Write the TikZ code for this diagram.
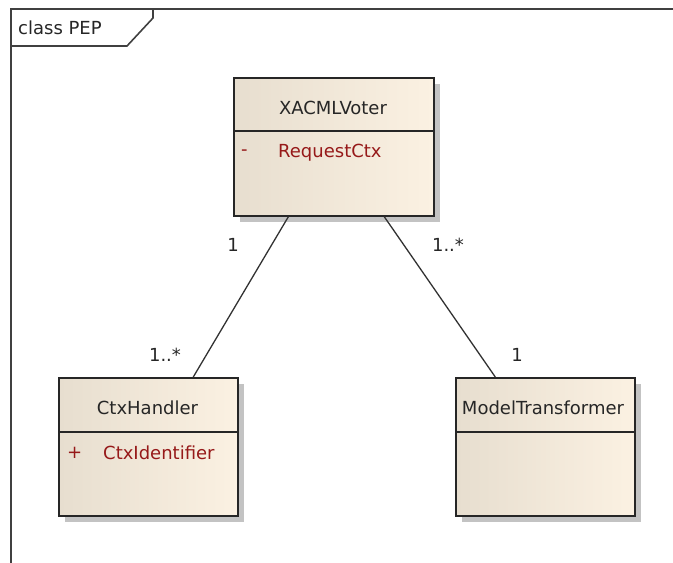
\documentclass[tikz,border=0pt]{standalone}
\usepackage{fontspec}
\setmainfont{DejaVu Sans}
\usetikzlibrary{calc,shadows}
\definecolor{boxleft}{RGB}{231,222,207}
\definecolor{boxright}{RGB}{251,241,226}
\definecolor{attrred}{RGB}{150,25,25}
\definecolor{linegray}{RGB}{50,50,50}
\definecolor{shadowgray}{RGB}{195,195,195}
\begin{document}
\begin{tikzpicture}[x=1pt,y=-1pt,
  every node/.style={font=\fontsize{18}{20}\selectfont, inner sep=0pt},
  classbox/.style={draw=black!85, line width=1.6pt, rectangle, anchor=north west,
    left color=boxleft, right color=boxright,
    general shadow={fill=shadowgray, shadow xshift=6pt, shadow yshift=-6pt}},
  divider/.style={draw=black!85, line width=1.4pt},
  assoc/.style={draw=linegray, line width=1.3pt},
  frameline/.style={draw=black!75, line width=1.6pt},
  attr/.style={text=attrred, anchor=west},
  mult/.style={text=black!85},
  title/.style={text=black!85}
]
\useasboundingbox (0,0) rectangle (673,563);
% frame
\draw[frameline] (11,563) -- (11,9) -- (673,9);
\draw[frameline] (11,46) -- (127,46) -- (153,18) -- (153,9);
\node[anchor=west, text=black!85] (frametitle) at (18,28) {class PEP};

% XACMLVoter
\node[classbox, minimum width=200pt, minimum height=138pt] (xv) at (233,77) {};
\draw[divider] ($(xv.north west)+(0,54)$) coordinate (xvd1) -- ($(xv.north east)+(0,54)$) coordinate (xvd2);
\node[title] (xvt) at (333,108) {XACMLVoter};
\node[attr] (xvm) at (241,153) {-};
\node[attr] (xva) at (278,153) {RequestCtx};

% CtxHandler
\node[classbox, minimum width=179pt, minimum height=138pt] (ch) at (58,377) {};
\draw[divider] ($(ch.north west)+(0,55)$) coordinate (chd1) -- ($(ch.north east)+(0,55)$) coordinate (chd2);
\node[title] (cht) at (147.5,408) {CtxHandler};
\node[attr] (chm) at (67,453) {+};
\node[attr] (cha) at (103,453) {CtxIdentifier};

% ModelTransformer
\node[classbox, minimum width=179pt, minimum height=138pt] (mt) at (455,377) {};
\draw[divider] ($(mt.north west)+(0,55)$) coordinate (mtd1) -- ($(mt.north east)+(0,55)$) coordinate (mtd2);
\node[title] (mtt) at (543,408) {ModelTransformer};

% associations
\coordinate (a1) at ($(xv.south west)!0.275!(xv.south east)$);
\coordinate (a2) at ($(ch.north west)!0.749!(ch.north east)$);
\coordinate (b1) at ($(xv.south west)!0.75!(xv.south east)$);
\coordinate (b2) at ($(mt.north west)!0.223!(mt.north east)$);
\draw[assoc] (a1) -- (a2);
\draw[assoc] (b1) -- (b2);

% multiplicities
\node[mult] (m1) at (233,245) {1};
\node[mult] (m2) at (448,245) {1..*};
\node[mult] (m3) at (165,355) {1..*};
\node[mult] (m4) at (517,355) {1};
\end{tikzpicture}
\end{document}
